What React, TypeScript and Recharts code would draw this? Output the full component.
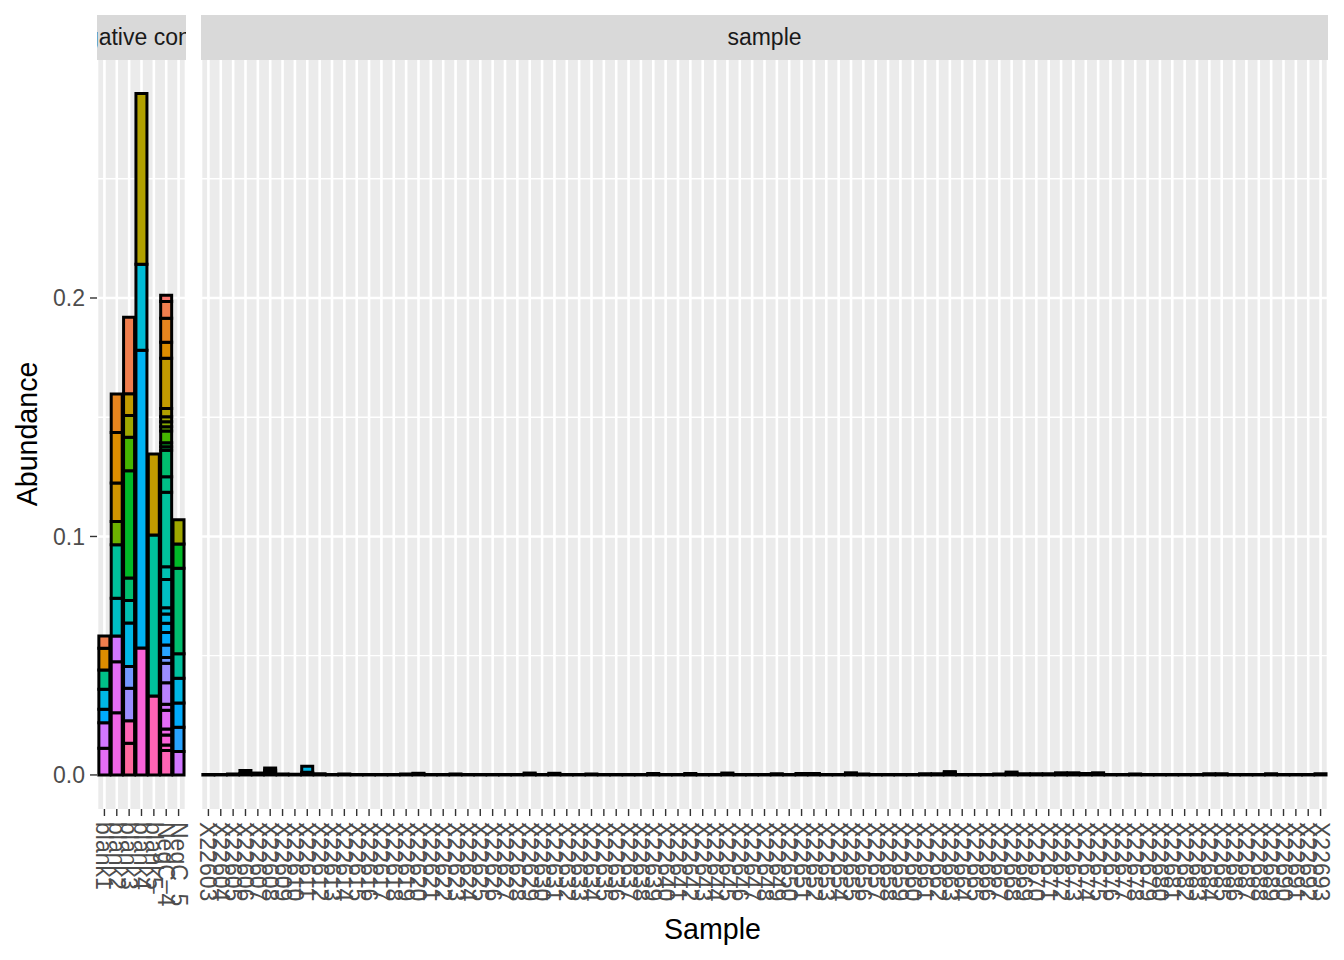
import { BarChart, Bar, XAxis, YAxis, CartesianGrid } from 'recharts';

// taxa are coloured with ggplot's default hue palette (hcl, l=65, c=100)
const N_TAXA = 34;

// negative control panel: [taxon index, abundance] per sample
const controlNames = ['blank1', 'blank2', 'blank3', 'blank4', 'blank5', 'NegC_4', 'NegC_5'];
const blank1 = [[1, 0.0052], [3, 0.0091], [14, 0.0081], [19, 0.0084], [21, 0.0056], [26, 0.0107], [27, 0.0112]];
const blank2 = [[2, 0.0161], [3, 0.0212], [4, 0.0161], [9, 0.0098], [15, 0.0224], [17, 0.0158], [26, 0.0108], [27, 0.0214], [28, 0.0261]];
const blank3 = [[1, 0.0321], [5, 0.0091], [7, 0.0091], [10, 0.014], [11, 0.045], [13, 0.0095], [16, 0.0094], [19, 0.0182], [23, 0.0091], [24, 0.0137], [31, 0.0094], [32, 0.0133]];
const blank4 = [[6, 0.0716], [18, 0.0361], [20, 0.1249], [29, 0.0532]];
const blank5 = [[5, 0.034], [15, 0.0675], [31, 0.0331]];
const negC4 = [[0, 0.0026], [1, 0.007], [2, 0.0101], [3, 0.0067], [5, 0.021], [6, 0.0035], [7, 0.0021], [8, 0.0021], [9, 0.0018], [10, 0.0049], [11, 0.0017], [12, 0.0014], [13, 0.0112], [14, 0.0065], [15, 0.0312], [16, 0.0053], [17, 0.0119], [18, 0.0026], [19, 0.0039], [20, 0.0039], [21, 0.0052], [22, 0.0052], [23, 0.0025], [24, 0.0081], [25, 0.0091], [26, 0.0025], [27, 0.0078], [28, 0.0025], [29, 0.0042], [30, 0.0024], [31, 0.0102]];
const negC5 = [[7, 0.0102], [11, 0.0101], [13, 0.0359], [15, 0.0102], [19, 0.0104], [21, 0.0102], [22, 0.0102], [26, 0.0098]];
const controlSegments = [blank1, blank2, blank3, blank4, blank5, negC4, negC5];

// sample panel
const sampleNames = [
  'X22603', 'X22604', 'X22605', 'X22606', 'X22607', 'X22608', 'X22609', 'X22610', 'X22611', 'X22612',
  'X22613', 'X22614', 'X22615', 'X22616', 'X22617', 'X22618', 'X22619', 'X22620', 'X22621', 'X22622',
  'X22623', 'X22624', 'X22625', 'X22626', 'X22627', 'X22628', 'X22629', 'X22630', 'X22631', 'X22632',
  'X22633', 'X22634', 'X22635', 'X22636', 'X22637', 'X22638', 'X22639', 'X22640', 'X22641', 'X22642',
  'X22643', 'X22644', 'X22645', 'X22646', 'X22647', 'X22648', 'X22649', 'X22650', 'X22651', 'X22652',
  'X22653', 'X22654', 'X22655', 'X22656', 'X22657', 'X22658', 'X22659', 'X22660', 'X22661', 'X22662',
  'X22663', 'X22664', 'X22665', 'X22666', 'X22667', 'X22668', 'X22669', 'X22670', 'X22671', 'X22672',
  'X22673', 'X22674', 'X22675', 'X22676', 'X22677', 'X22678', 'X22679', 'X22680', 'X22681', 'X22682',
  'X22683', 'X22684', 'X22685', 'X22686', 'X22687', 'X22688', 'X22689', 'X22690', 'X22691', 'X22692',
  'X22693',
];
// taxon 31
const sampleLow = [
  0.0002, 0.0002, 0.0004, 0.0006, 0.0004, 0.001, 0.0004, 0.0003, 0.0005, 0.0005,
  0.0002, 0.0004, 0.0002, 0.0002, 0.0002, 0.0002, 0.0004, 0.0004, 0.0002, 0.0002,
  0.0004, 0.0002, 0.0002, 0.0002, 0.0002, 0.0002, 0.0004, 0.0002, 0.0004, 0.0002,
  0.0002, 0.0004, 0.0002, 0.0002, 0.0002, 0.0002, 0.0003, 0.0002, 0.0002, 0.0003,
  0.0002, 0.0002, 0.0004, 0.0002, 0.0002, 0.0002, 0.0005, 0.0002, 0.0003, 0.0003,
  0.0002, 0.0002, 0.0005, 0.0004, 0.0002, 0.0002, 0.0002, 0.0002, 0.0005, 0.0005,
  0.0005, 0.0002, 0.0002, 0.0002, 0.0004, 0.0006, 0.0005, 0.0005, 0.0005, 0.0005,
  0.0005, 0.0003, 0.0005, 0.0002, 0.0002, 0.0004, 0.0002, 0.0002, 0.0002, 0.0002,
  0.0002, 0.0005, 0.0005, 0.0002, 0.0002, 0.0002, 0.0005, 0.0002, 0.0002, 0.0002,
  0.0005,
];
// taxon 24
const sampleMid = [
  0, 0, 0, 0, 0.0004, 0.001, 0, 0, 0.0006, 0,
  0, 0, 0, 0, 0, 0, 0, 0.0003, 0, 0,
  0, 0, 0, 0, 0, 0, 0.0004, 0, 0.0003, 0,
  0, 0, 0, 0, 0, 0, 0.0003, 0, 0, 0.0003,
  0, 0, 0.0004, 0, 0, 0, 0, 0, 0.0003, 0.0003,
  0, 0, 0.0004, 0, 0, 0, 0, 0, 0, 0,
  0.0005, 0, 0, 0, 0, 0.0006, 0, 0, 0, 0.0004,
  0.0004, 0.0003, 0.0004, 0, 0, 0, 0, 0, 0, 0,
  0, 0, 0, 0, 0, 0, 0, 0, 0, 0,
  0,
];
// taxon 19
const sampleBlue = [
  0, 0, 0, 0.0013, 0, 0, 0, 0, 0.0025, 0,
  0, 0, 0, 0, 0, 0, 0, 0, 0, 0,
  0, 0, 0, 0, 0, 0, 0, 0, 0, 0,
  0, 0, 0, 0, 0, 0, 0, 0, 0, 0,
  0, 0, 0, 0, 0, 0, 0, 0, 0, 0,
  0, 0, 0, 0, 0, 0, 0, 0, 0, 0,
  0, 0, 0, 0, 0, 0, 0, 0, 0, 0,
  0, 0, 0, 0, 0, 0, 0, 0, 0, 0,
  0, 0, 0, 0, 0, 0, 0, 0, 0, 0,
  0,
];
// taxon 12
const sampleTop = [
  0, 0, 0, 0, 0, 0.0009, 0, 0, 0, 0,
  0, 0, 0, 0, 0, 0, 0, 0, 0, 0,
  0, 0, 0, 0, 0, 0, 0, 0, 0, 0,
  0, 0, 0, 0, 0, 0, 0, 0, 0, 0,
  0, 0, 0, 0, 0, 0, 0, 0, 0, 0,
  0, 0, 0, 0, 0, 0, 0, 0, 0, 0,
  0.0004, 0, 0, 0, 0, 0, 0, 0, 0, 0,
  0, 0, 0, 0, 0, 0, 0, 0, 0, 0,
  0, 0, 0, 0, 0, 0, 0, 0, 0, 0,
  0,
];

const yDomain = [-0.01428, 0.2998];
const majorTicks = [0, 0.1, 0.2];
const minorTicks = [0.05, 0.15, 0.25];

const FONT = '"Liberation Sans", Arial, Helvetica, sans-serif';

// hcl -> hex, like grDevices::hcl
function hcl(h: number, c = 100, l = 65) {
  const hr = (h * Math.PI) / 180;
  const u = c * Math.cos(hr);
  const v = c * Math.sin(hr);
  const Xn = 95.047, Yn = 100, Zn = 108.883;
  const d = Xn + 15 * Yn + 3 * Zn;
  const un = (4 * Xn) / d, vn = (9 * Yn) / d;
  const Y = Yn * Math.pow((l + 16) / 116, 3);
  const up = u / (13 * l) + un;
  const vp = v / (13 * l) + vn;
  const X = (Y * 9 * up) / (4 * vp);
  const Z = (Y * (12 - 3 * up - 20 * vp)) / (4 * vp);
  const x = X / 100, y = Y / 100, z = Z / 100;
  const lin = [
    3.2406 * x - 1.5372 * y - 0.4986 * z,
    -0.9689 * x + 1.8758 * y + 0.0415 * z,
    0.0557 * x - 0.204 * y + 1.057 * z,
  ];
  return '#' + lin.map(cc => {
    const g = cc <= 0.0031308 ? 12.92 * cc : 1.055 * Math.pow(cc, 1 / 2.4) - 0.055;
    const n = Math.round(Math.min(1, Math.max(0, g)) * 255);
    return n.toString(16).padStart(2, '0');
  }).join('');
}

const palette = Array.from({ length: N_TAXA }, (_, i) => hcl(15 + (360 * i) / N_TAXA));
const taxa = Array.from({ length: N_TAXA }, (_, i) => i);

const emptyRow = (name: string) => {
  const row: any = { name };
  taxa.forEach(t => { row['t' + t] = 0; });
  return row;
};

const controlRows = controlNames.map((name, i) => {
  const row = emptyRow(name);
  controlSegments[i].forEach(([t, v]) => { row['t' + t] = v; });
  return row;
});

const sampleRows = sampleNames.map((name, i) => {
  const row = emptyRow(name);
  row.t31 = sampleLow[i];
  row.t24 = sampleMid[i];
  row.t19 = sampleBlue[i];
  row.t12 = sampleTop[i];
  return row;
});

const RotTick = (props: any) => {
  const { x, y, payload } = props;
  return (
    <text x={x} y={y} transform={`rotate(90, ${x}, ${y})`} textAnchor="start"
      dominantBaseline="central" fill="#4D4D4D" fontSize={23} fontFamily={FONT}>
      {payload.value}
    </text>
  );
};

const renderBars = () =>
  // last taxon sits at the bottom of the stack, as in ggplot
  [...taxa].reverse().map(t => (
    <Bar key={t} dataKey={'t' + t} stackId="s" fill={palette[t]} stroke="#000000"
      strokeWidth={3} isAnimationActive={false} />
  ));

type PanelProps = { data: any[]; width: number; left: number; showY: boolean; margin: any };

const Panel = ({ data, width, left, showY, margin }: PanelProps) => (
  <div style={{ position: 'absolute', left, top: 0 }}>
    <BarChart width={width} height={960} data={data} barCategoryGap="5%" margin={margin}>
      <CartesianGrid fill="#EBEBEB" stroke="#FFFFFF" strokeWidth={1.3} vertical={false}
        horizontalValues={minorTicks} />
      <CartesianGrid fill="none" stroke="#FFFFFF" strokeWidth={2.6} horizontalValues={majorTicks} />
      <XAxis dataKey="name" type="category" interval={0} height={100} tick={<RotTick />}
        tickSize={7} tickMargin={6} axisLine={false}
        tickLine={{ stroke: '#333333', strokeWidth: 1.4 }}
        padding={{ left: 1.24, right: 1.24 }} />
      <YAxis type="number" domain={yDomain} allowDataOverflow ticks={majorTicks} hide={!showY}
        width={97} tickFormatter={(v: number) => v.toFixed(1)} axisLine={false}
        tickSize={7} tickMargin={5} tickLine={{ stroke: '#333333', strokeWidth: 1.4 }}
        tick={{ fill: '#4D4D4D', fontSize: 23, fontFamily: FONT }} />
      {renderBars()}
    </BarChart>
  </div>
);

const Strip = ({ left, width, label }: { left: number; width: number; label: string }) => (
  <div style={{
    position: 'absolute', left, top: 15, width, height: 45, background: '#D9D9D9',
    overflow: 'hidden', display: 'flex', alignItems: 'center', justifyContent: 'center',
    fontFamily: FONT, fontSize: 23, color: '#1A1A1A', whiteSpace: 'nowrap',
  }}>
    <span style={{ flexShrink: 0 }}>{label}</span>
  </div>
);

export default function App() {
  return (
    <div style={{ position: 'absolute', left: 0, top: 0, width: 1344, height: 960, background: '#FFFFFF', overflow: 'hidden' }}>
      <Panel data={controlRows} width={204} left={0} showY
        margin={{ top: 60, right: 18, bottom: 51, left: 0 }} />
      <Panel data={sampleRows} width={1164} left={180} showY={false}
        margin={{ top: 60, right: 16, bottom: 51, left: 21 }} />
      <Strip left={97} width={89} label="negative control" />
      <Strip left={201} width={1127} label="sample" />
      <div style={{
        position: 'absolute', left: 27, top: 434, transform: 'translate(-50%, -50%) rotate(-90deg)',
        fontFamily: FONT, fontSize: 28.6, color: '#000000', whiteSpace: 'nowrap',
      }}>Abundance</div>
      <div style={{
        position: 'absolute', left: 712.5, top: 929, transform: 'translate(-50%, -50%)',
        fontFamily: FONT, fontSize: 28.6, color: '#000000', whiteSpace: 'nowrap',
      }}>Sample</div>
    </div>
  );
}
